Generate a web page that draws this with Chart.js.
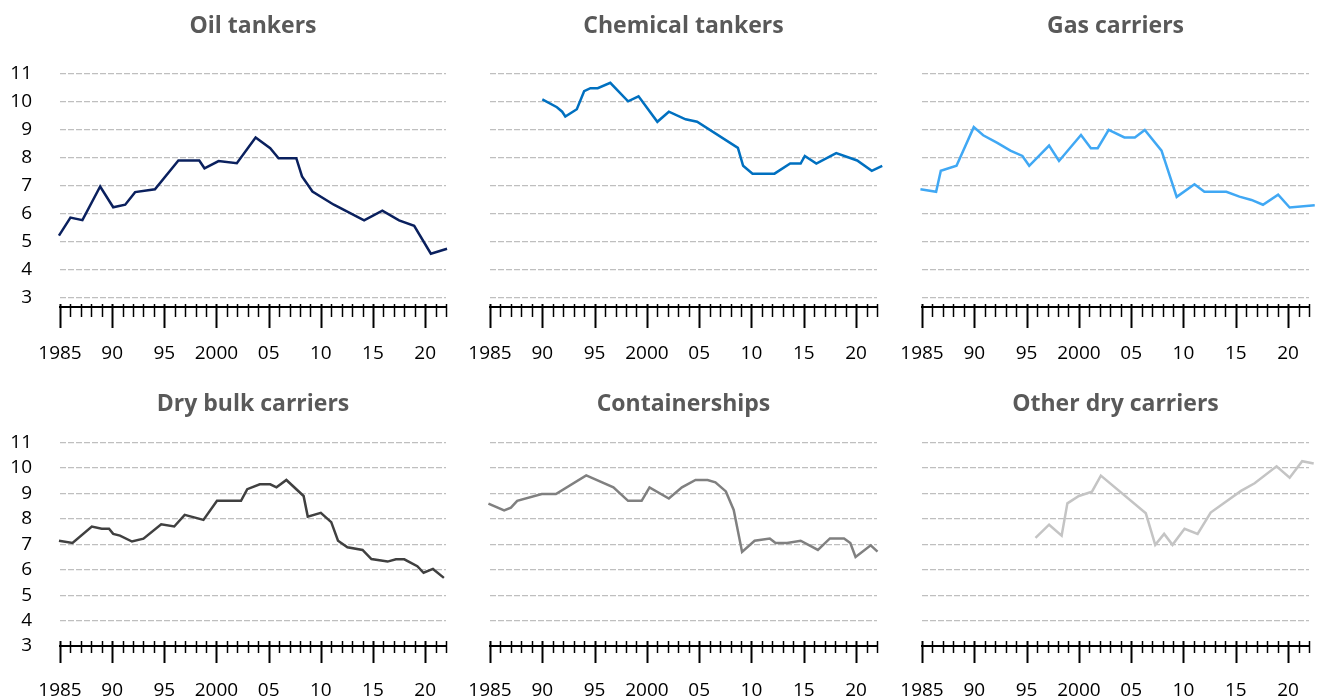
<!DOCTYPE html>
<html>
<head>
<meta charset="utf-8">
<script src="https://cdn.jsdelivr.net/npm/chart.js@4.4.1/dist/chart.umd.min.js"></script>
<style>
html,body{margin:0;padding:0;background:#fff;}
#wrap{position:relative;width:1317px;height:700px;overflow:hidden;}
#wrap canvas{position:absolute;}
</style>
</head>
<body>
<div id="wrap"></div>
<script>
// ---------- data ----------
const tickYears  = [1985, 1990, 1995, 2000, 2005, 2010, 2015, 2020];
const tickLabels = ['1985', '90', '95', '2000', '05', '10', '15', '20'];
const yTicks     = [3, 4, 5, 6, 7, 8, 9, 10, 11];
const titles     = ['Oil tankers', 'Chemical tankers', 'Gas carriers', 'Dry bulk carriers', 'Containerships', 'Other dry carriers'];

const oilYears  = [1984.9, 1986.0, 1987.15, 1988.85, 1990.1, 1991.25, 1992.2, 1994.1, 1996.35, 1998.35, 1998.85, 2000.2, 2001.95, 2003.75, 2005.15, 2005.95, 2007.65, 2008.2, 2009.2, 2011.25, 2014.15, 2015.9, 2017.5, 2018.95, 2020.55, 2022.1];
const oilValues = [5.22, 5.86, 5.77, 6.97, 6.23, 6.32, 6.77, 6.87, 7.9, 7.9, 7.62, 7.88, 7.8, 8.72, 8.34, 7.98, 7.98, 7.33, 6.79, 6.32, 5.76, 6.11, 5.76, 5.57, 4.57, 4.75];

const chemYears  = [1990.0, 1991.4, 1991.9, 1992.2, 1993.3, 1994.0, 1994.6, 1995.3, 1996.5, 1998.2, 1999.2, 2001.0, 2002.1, 2003.7, 2004.8, 2008.7, 2009.2, 2010.1, 2012.2, 2013.7, 2014.7, 2015.1, 2016.2, 2018.1, 2020.1, 2021.5, 2022.5];
const chemValues = [10.08, 9.8, 9.64, 9.47, 9.73, 10.37, 10.48, 10.48, 10.67, 10.01, 10.19, 9.28, 9.64, 9.37, 9.28, 8.35, 7.71, 7.43, 7.43, 7.79, 7.79, 8.06, 7.79, 8.16, 7.9, 7.53, 7.71];

const gasYears  = [1984.85, 1986.35, 1986.8, 1988.3, 1989.95, 1990.85, 1992.2, 1993.45, 1994.6, 1995.25, 1997.15, 1998.1, 2000.2, 2001.15, 2001.8, 2002.85, 2004.35, 2005.35, 2006.3, 2007.9, 2009.35, 2011.05, 2012.0, 2014.1, 2015.35, 2016.5, 2017.6, 2019.05, 2020.15, 2022.55];
const gasValues = [6.87, 6.78, 7.53, 7.71, 9.09, 8.8, 8.53, 8.25, 8.06, 7.71, 8.43, 7.88, 8.81, 8.34, 8.34, 8.99, 8.72, 8.72, 8.99, 8.25, 6.6, 7.05, 6.78, 6.78, 6.61, 6.49, 6.32, 6.68, 6.22, 6.3];

const bulkYears  = [1984.9, 1986.2, 1988.05, 1989.0, 1989.7, 1990.1, 1990.75, 1991.9, 1993.0, 1994.7, 1995.95, 1996.95, 1998.75, 2000.05, 2002.35, 2002.95, 2004.15, 2005.15, 2005.75, 2006.7, 2008.35, 2008.75, 2010.0, 2011.0, 2011.65, 2012.55, 2014.0, 2014.85, 2016.4, 2017.2, 2018.0, 2019.25, 2019.85, 2020.75, 2021.8];
const bulkValues = [7.14, 7.05, 7.7, 7.61, 7.61, 7.41, 7.34, 7.11, 7.22, 7.79, 7.7, 8.16, 7.96, 8.71, 8.71, 9.17, 9.36, 9.36, 9.24, 9.53, 8.9, 8.09, 8.24, 7.87, 7.14, 6.88, 6.78, 6.42, 6.32, 6.41, 6.41, 6.14, 5.88, 6.03, 5.68];

const contYears  = [1984.85, 1986.35, 1987.0, 1987.6, 1989.95, 1991.3, 1994.2, 1996.8, 1998.2, 1999.5, 2000.25, 2002.1, 2003.35, 2004.65, 2005.8, 2006.55, 2007.55, 2008.3, 2009.1, 2010.3, 2011.75, 2012.3, 2013.4, 2014.7, 2016.35, 2017.5, 2018.85, 2019.45, 2019.95, 2021.4, 2022.05];
const contValues = [8.6, 8.33, 8.44, 8.71, 8.98, 8.98, 9.71, 9.24, 8.71, 8.71, 9.24, 8.8, 9.24, 9.53, 9.53, 9.44, 9.08, 8.35, 6.7, 7.14, 7.23, 7.05, 7.05, 7.14, 6.78, 7.23, 7.23, 7.05, 6.5, 6.96, 6.71];

const otherYears  = [1995.85, 1997.15, 1998.35, 1998.9, 2000.0, 2001.25, 2002.1, 2006.4, 2007.3, 2008.15, 2008.95, 2010.1, 2011.35, 2012.6, 2015.5, 2016.8, 2018.9, 2020.15, 2021.35, 2022.45];
const otherValues = [7.25, 7.77, 7.34, 8.61, 8.9, 9.07, 9.7, 8.22, 6.98, 7.41, 6.98, 7.61, 7.41, 8.25, 9.1, 9.4, 10.07, 9.62, 10.27, 10.18];

const seriesYears  = [oilYears, chemYears, gasYears, bulkYears, contYears, otherYears];
const seriesValues = [oilValues, chemValues, gasValues, bulkValues, contValues, otherValues];

// ---------- styles / layout ----------
const lineColors = ['#0a205e', '#0070c0', '#40a8f4', '#404040', '#808080', '#c4c4c4'];
const cols = [
  {left: 0,   width: 460, yW: 60, padR: 14, labels: true},
  {left: 460, width: 430, yW: 30, padR: 13, labels: false},
  {left: 890, width: 427, yW: 32, padR: 8,  labels: false}
];
const rows = [
  {top: 0,   height: 370, yMin: 2.67, tPadTop: 13, tPadBot: 33, xH: 63, labelPad: 35, up: 3, minorDown: 10, majorDown: 21},
  {top: 370, height: 330, yMin: 3,    tPadTop: 21, tPadBot: 24, xH: 54, labelPad: 33, up: 5, minorDown: 7,  majorDown: 17}
];
const FONT = '"Open Sans", "DejaVu Sans", sans-serif';

const yearTickPlugin = {
  id: 'yearTicks',
  afterDraw(chart, args, opts) {
    const xs = chart.scales.x;
    const ctx = chart.ctx;
    const y0 = chart.chartArea.bottom;
    ctx.save();
    ctx.strokeStyle = '#000';
    for (let yr = xs.min; yr <= xs.max; yr++) {
      const px = Math.round(xs.getPixelForValue(yr)) + 0.5;
      const major = tickYears.includes(yr);
      ctx.lineWidth = major ? 2 : 1.5;
      ctx.beginPath();
      ctx.moveTo(px, y0 - opts.up);
      ctx.lineTo(px, y0 + (major ? opts.majorDown : opts.minorDown));
      ctx.stroke();
    }
    ctx.restore();
  }
};

const wrap = document.getElementById('wrap');
for (let i = 0; i < 6; i++) {
  const col = cols[i % 3];
  const row = rows[Math.floor(i / 3)];
  const canvas = document.createElement('canvas');
  canvas.width = col.width;
  canvas.height = row.height;
  canvas.style.left = col.left + 'px';
  canvas.style.top = row.top + 'px';
  canvas.style.width = col.width + 'px';
  canvas.style.height = row.height + 'px';
  wrap.appendChild(canvas);

  const pts = seriesYears[i].map((x, k) => ({x: x, y: seriesValues[i][k]}));

  new Chart(canvas, {
    type: 'line',
    data: {
      datasets: [{
        data: pts,
        borderColor: lineColors[i],
        borderWidth: 2.5,
        pointRadius: 0,
        tension: 0,
        fill: false,
        clip: false
      }]
    },
    plugins: [yearTickPlugin],
    options: {
      responsive: false,
      animation: false,
      devicePixelRatio: 1,
      layout: {padding: {left: 0, right: col.padR, top: 0, bottom: 0}},
      plugins: {
        legend: {display: false},
        tooltip: {enabled: false},
        title: {
          display: true,
          text: titles[i],
          fullSize: false,
          color: '#595959',
          font: {family: FONT, size: 23, weight: 'bold', lineHeight: 1.2},
          padding: {top: row.tPadTop, bottom: row.tPadBot}
        },
        yearTicks: {up: row.up, minorDown: row.minorDown, majorDown: row.majorDown}
      },
      scales: {
        x: {
          type: 'linear',
          min: 1985,
          max: 2022,
          afterBuildTicks: s => { s.ticks = tickYears.map(v => ({value: v})); },
          afterFit: s => { s.height = row.xH; s.paddingLeft = 0; s.paddingRight = 0; },
          grid: {display: false, drawTicks: false},
          border: {display: true, color: '#000', width: 2},
          ticks: {
            autoSkip: false,
            maxRotation: 0,
            padding: row.labelPad,
            color: '#000',
            font: {family: FONT, size: 19},
            callback: (v) => tickLabels[tickYears.indexOf(v)]
          }
        },
        y: {
          type: 'linear',
          min: row.yMin,
          max: 11,
          afterBuildTicks: s => { s.ticks = yTicks.map(v => ({value: v})); },
          afterFit: s => { s.width = col.yW; s.paddingTop = 0; s.paddingBottom = 0; },
          grid: {display: true, drawTicks: false, color: '#bfbfbf', lineWidth: 1.3},
          border: {display: false, dash: [6, 2]},
          ticks: {
            display: col.labels,
            autoSkip: false,
            padding: 28,
            color: '#000',
            font: {family: FONT, size: 19},
            callback: (v) => String(v)
          }
        }
      }
    }
  });
}
</script>
</body>
</html>
